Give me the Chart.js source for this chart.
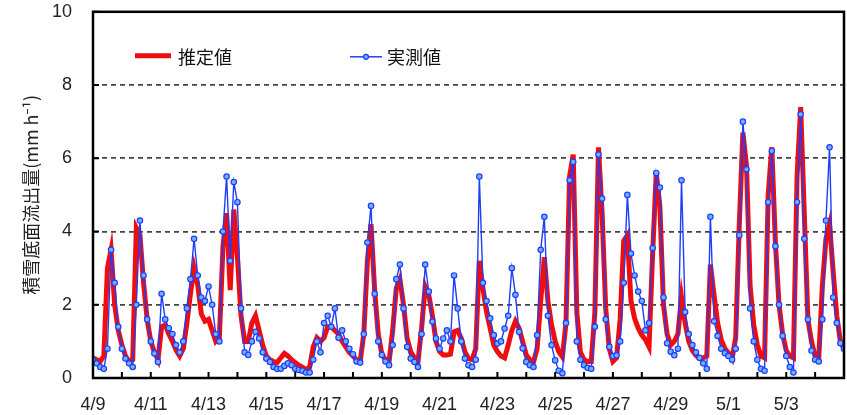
<!DOCTYPE html>
<html>
<head>
<meta charset="utf-8">
<script src="https://cdn.jsdelivr.net/npm/chart.js@4/dist/chart.umd.min.js"></script>
<style>
  html, body { margin: 0; padding: 0; background: #fff; overflow: hidden; }
  /* the y tick padding pushes the plot down by ~20px, so the canvas is lifted by that much */
  #wrap { width: 860px; height: 435px; margin-top: -20px; }
</style>
</head>
<body>
<div id="wrap"><canvas id="chart"></canvas></div>
<script>
// one label per day, starting 4/9 at 0:00
const dayLabels = ['4/9', '4/10', '4/11', '4/12', '4/13', '4/14', '4/15', '4/16', '4/17', '4/18', '4/19',
  '4/20', '4/21', '4/22', '4/23', '4/24', '4/25', '4/26', '4/27', '4/28', '4/29', '4/30',
  '5/1', '5/2', '5/3', '5/4', '5/5'];
const yTicks = [0, 2, 4, 6, 8, 10];
const stepHours = 3; // values below are read every 3 h

// 推定値 (mm/h)
const estimated = [
  0.55, 0.5, 0.45, 0.6, 3.0, 3.5, 2.0, 1.3,      // 4/9
  0.9, 0.6, 0.45, 0.5, 4.1, 3.9, 2.6, 1.6,       // 4/10
  1.0, 0.7, 0.5, 1.4, 1.45, 1.2, 1.0, 0.76,      // 4/11
  0.6, 0.8, 1.5, 2.3, 3.0, 2.55, 1.75, 1.55,     // 4/12
  1.6, 1.3, 1.0, 1.1, 3.6, 4.5, 2.4, 4.6,        // 4/13
  3.3, 1.7, 1.0, 1.0, 1.5, 1.7, 1.3, 0.9,        // 4/14
  0.6, 0.5, 0.45, 0.42, 0.55, 0.67, 0.6, 0.5,    // 4/15
  0.42, 0.35, 0.3, 0.22, 0.3, 0.85, 1.1, 1.0,    // 4/16
  1.1, 1.4, 1.4, 1.3, 1.2, 1.0, 0.85, 0.7,       // 4/17
  0.6, 0.5, 0.45, 1.2, 3.2, 4.2, 2.4, 1.2,       // 4/18
  0.65, 0.5, 0.44, 1.3, 2.45, 2.7, 2.0, 1.08,    // 4/19
  0.72, 0.55, 0.44, 1.35, 2.5, 2.27, 1.7, 1.0,   // 4/20
  0.72, 0.63, 0.63, 0.65, 1.26, 1.3, 1.08, 0.72, // 4/21
  0.53, 0.5, 0.8, 3.2, 2.45, 1.8, 1.36, 0.9,     // 4/22
  0.72, 0.6, 0.55, 0.9, 1.3, 1.55, 1.36, 0.99,   // 4/23
  0.63, 0.5, 0.44, 0.8, 2.1, 3.3, 2.1, 1.45,     // 4/24
  1.0, 0.72, 0.58, 1.5, 5.5, 6.1, 1.8, 0.7,      // 4/25
  0.5, 0.45, 0.45, 1.8, 6.3, 4.5, 1.9, 0.8,      // 4/26
  0.45, 0.55, 1.6, 3.75, 3.9, 2.1, 1.63, 1.36,   // 4/27
  1.17, 1.05, 0.85, 3.4, 5.6, 4.7, 2.0, 1.2,     // 4/28
  0.9, 1.0, 1.2, 2.2, 1.5, 1.0, 0.75, 0.62,      // 4/29
  0.53, 0.55, 0.6, 3.1, 2.27, 1.5, 1.05, 0.8,    // 4/30
  0.68, 0.53, 1.1, 4.2, 6.7, 5.8, 2.5, 1.45,     // 5/1
  0.9, 0.6, 0.55, 5.0, 6.3, 3.7, 2.0, 1.2,       // 5/2
  0.75, 0.6, 0.55, 5.5, 7.4, 4.5, 1.6, 1.0,      // 5/3
  0.6, 0.53, 2.5, 3.8, 4.2, 2.9, 1.7, 1.0,       // 5/4
  0.8                                            // 5/5
];

// 実測値 (mm/h)
const measured = [
  0.5, 0.4, 0.3, 0.25, 0.8, 3.5, 2.6, 1.4,       // 4/9
  0.8, 0.53, 0.4, 0.3, 2.0, 4.3, 2.8, 1.6,       // 4/10
  1.0, 0.67, 0.44, 2.3, 1.6, 1.36, 1.2, 0.9,     // 4/11
  0.7, 1.0, 1.9, 2.7, 3.8, 2.8, 2.2, 2.1,        // 4/12
  2.5, 2.0, 1.2, 1.0, 4.0, 5.5, 3.2, 5.35,       // 4/13
  4.8, 1.9, 0.7, 0.63, 1.0, 1.26, 1.08, 0.7,     // 4/14
  0.53, 0.44, 0.3, 0.25, 0.25, 0.33, 0.4, 0.35,  // 4/15
  0.25, 0.22, 0.2, 0.15, 0.15, 0.5, 1.0, 0.7,    // 4/16
  1.5, 1.7, 1.4, 1.9, 1.1, 1.3, 1.0, 0.8,        // 4/17
  0.65, 0.45, 0.42, 1.2, 3.7, 4.7, 2.3, 1.0,     // 4/18
  0.63, 0.45, 0.35, 0.9, 2.7, 3.1, 1.9, 0.85,    // 4/19
  0.53, 0.44, 0.3, 1.2, 3.1, 2.36, 1.54, 1.08,   // 4/20
  0.8, 1.08, 1.3, 1.0, 2.8, 1.9, 1.0, 0.53,      // 4/21
  0.35, 0.3, 0.5, 5.5, 2.6, 2.1, 1.63, 1.17,     // 4/22
  0.94, 1.0, 1.35, 1.7, 3.0, 2.27, 1.26, 0.81,   // 4/23
  0.44, 0.35, 0.3, 1.17, 3.5, 4.4, 1.7, 0.9,     // 4/24
  0.48, 0.2, 0.13, 1.5, 5.4, 5.9, 1.0, 0.5,      // 4/25
  0.35, 0.28, 0.25, 1.4, 6.1, 4.9, 1.6, 0.85,    // 4/26
  0.6, 0.62, 1.0, 2.6, 5.0, 3.4, 2.8, 2.36,      // 4/27
  2.1, 1.3, 1.5, 3.55, 5.6, 5.2, 2.2, 0.95,      // 4/28
  0.72, 0.62, 0.8, 5.4, 1.8, 1.2, 0.9, 0.7,      // 4/29
  0.55, 0.4, 0.25, 4.4, 1.55, 1.15, 0.8, 0.68,   // 4/30
  0.6, 0.5, 0.8, 3.9, 7.0, 5.7, 1.9, 1.0,        // 5/1
  0.5, 0.25, 0.2, 4.8, 6.2, 3.6, 2.0, 1.15,      // 5/2
  0.6, 0.3, 0.15, 4.8, 7.2, 3.8, 1.6, 0.75,      // 5/3
  0.5, 0.45, 1.6, 4.3, 6.3, 2.2, 1.5, 0.95,      // 5/4
  0.8                                            // 5/5
];

const toPoints = (values) => values.map((v, i) => ({ x: (i * stepHours) / 24, y: v }));

const RED = '#f00d0d';
const BLUE = '#1f3dff';
const cjk = '"Noto Sans CJK JP", "Noto Sans", sans-serif';

// frame, inner tick marks and the legend
const decor = {
  id: 'decor',
  afterDatasetsDraw(chart) {
    const { ctx, chartArea: a, scales: { x, y } } = chart;
    ctx.save();
    ctx.strokeStyle = '#000';
    ctx.lineWidth = 2;
    x.ticks.forEach((t) => {
      const px = x.getPixelForValue(t.value);
      ctx.beginPath();
      ctx.moveTo(px, a.bottom);
      ctx.lineTo(px, a.bottom - 6);
      ctx.stroke();
    });
    y.ticks.forEach((t) => {
      const py = y.getPixelForValue(t.value);
      ctx.beginPath();
      ctx.moveTo(a.left, py);
      ctx.lineTo(a.left + 6, py);
      ctx.stroke();
    });
    ctx.lineWidth = 2.5;
    ctx.strokeRect(a.left, a.top, a.right - a.left, a.bottom - a.top);

    // legend
    const ly = a.top + 44;
    ctx.font = '18px ' + cjk;
    ctx.fillStyle = '#111';
    ctx.textBaseline = 'middle';
    ctx.strokeStyle = RED;
    ctx.lineWidth = 5;
    ctx.beginPath();
    ctx.moveTo(a.left + 42, ly);
    ctx.lineTo(a.left + 78, ly);
    ctx.stroke();
    ctx.fillText('推定値', a.left + 85, ly + 1);

    ctx.strokeStyle = BLUE;
    ctx.lineWidth = 1.5;
    ctx.beginPath();
    ctx.moveTo(a.left + 257, ly + 1);
    ctx.lineTo(a.left + 289, ly + 1);
    ctx.stroke();
    ctx.beginPath();
    ctx.arc(a.left + 273, ly + 1, 2.5, 0, Math.PI * 2);
    ctx.fillStyle = '#6fb0ff';
    ctx.fill();
    ctx.lineWidth = 1.2;
    ctx.stroke();
    ctx.fillStyle = '#111';
    ctx.fillText('実測値', a.left + 294, ly + 1);
    ctx.restore();
  },
};

new Chart(document.getElementById('chart'), {
  type: 'line',
  data: {
    datasets: [
      {
        label: '実測値',
        data: toPoints(measured),
        borderColor: BLUE,
        borderWidth: 1.4,
        pointRadius: 2.7,
        pointBorderWidth: 1.2,
        pointBorderColor: BLUE,
        pointBackgroundColor: '#6fb0ff',
        tension: 0,
        order: 1,
      },
      {
        label: '推定値',
        data: toPoints(estimated),
        borderColor: RED,
        borderWidth: 5,
        pointRadius: 0,
        tension: 0,
        order: 2,
      },
    ],
  },
  options: {
    responsive: true,
    maintainAspectRatio: false,
    animation: false,
    layout: { padding: { left: 0, top: 0, right: 9, bottom: 0 } },
    plugins: { legend: { display: false }, tooltip: { enabled: false } },
    scales: {
      x: {
        type: 'linear',
        min: 0,
        max: dayLabels.length - 1,
        afterFit: (scale) => { scale.height = 37; },
        grid: { display: false, drawTicks: false },
        border: { display: false },
        ticks: {
          stepSize: 1,
          autoSkip: false,
          maxRotation: 0,
          padding: 16,
          color: '#222',
          font: { family: '"Liberation Sans Narrow", "Liberation Sans", Arial, sans-serif', size: 18 },
          callback: (v) => (v % 2 === 0 && v < dayLabels.length - 1 ? dayLabels[v] : ''),
        },
      },
      y: {
        min: yTicks[0],
        max: yTicks[yTicks.length - 1],
        afterFit: (scale) => { scale.width = 93; },
        afterBuildTicks: (scale) => { scale.ticks = yTicks.map((v) => ({ value: v })); },
        grid: {
          drawTicks: false,
          lineWidth: 1.7,
          color: (c) => (c.tick.value > 0 && c.tick.value < 10 ? '#444' : 'rgba(0,0,0,0)'),
        },
        border: { display: false, dash: [5, 4] },
        ticks: {
          padding: 21,
          color: '#222',
          font: { family: '"Liberation Sans", Arial, sans-serif', size: 18 },
        },
        title: {
          display: true,
          text: '積雪底面流出量(mm h⁻¹)',
          color: '#222',
          padding: { top: 20, bottom: 0 },
          font: { family: cjk, size: 18 },
        },
      },
    },
  },
  plugins: [decor],
});
</script>
</body>
</html>
